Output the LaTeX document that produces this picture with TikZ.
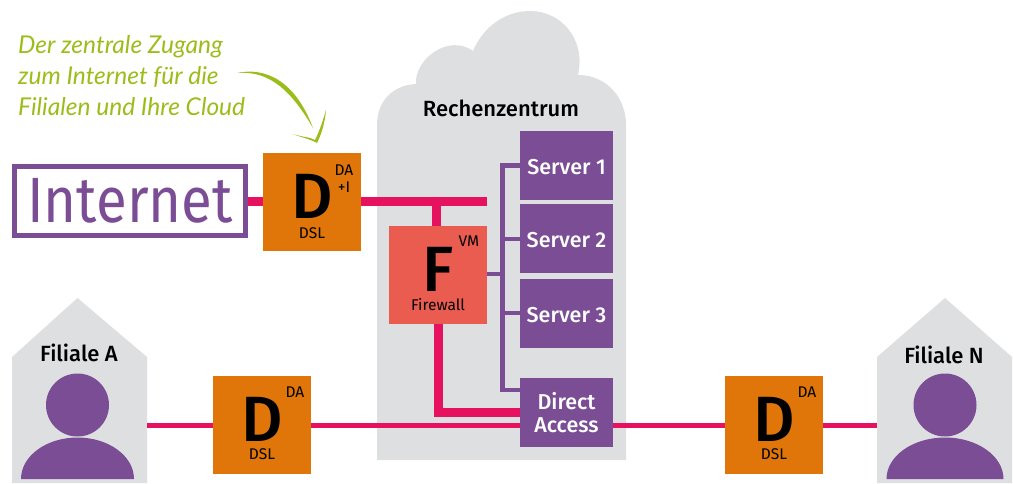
\documentclass[tikz,border=0pt]{standalone}
\usepackage{fontspec}
\setmainfont{Fira Sans}[BoldFont={Fira Sans Medium}]
\newfontfamily\handfont{Lato}
\usetikzlibrary{positioning}
\definecolor{lila}{HTML}{7A4D95}
\definecolor{orangebox}{HTML}{E0760A}
\definecolor{netpink}{HTML}{E6125F}
\definecolor{wolke}{HTML}{DEDFE1}
\definecolor{fwrot}{HTML}{EA5B50}
\definecolor{notiz}{HTML}{9BBD1A}
\newcommand{\fs}[1]{\fontsize{#1}{#1}\selectfont}
\newcommand{\gross}[1]{\raisebox{12pt}{#1}}
\tikzset{
  netbox/.style={minimum size=98pt,inner sep=0pt,text=black,font=\bfseries\fs{64}},
  dslbox/.style={netbox,fill=orangebox},
  fwbox/.style={netbox,fill=fwrot},
  srvbox/.style={fill=lila,text=white,minimum width=93pt,minimum height=69pt,inner sep=0pt,align=center,font=\bfseries\fs{21.5}},
  srvone/.style={srvbox,text height=18pt,text depth=0pt},
  klein/.style={inner sep=0pt,text=black,font=\fs{15.5},align=center},
  titel/.style={inner sep=0pt,text=black,font=\bfseries\fs{22}},
  haus/.style={fill=wolke},
  person/.style={fill=lila},
  fatline/.style={draw=netpink,line width=9pt},
  thinline/.style={draw=netpink,line width=5pt},
  busline/.style={draw=lila,line width=4.5pt},
  hand/.style={inner sep=0pt,anchor=west,text=notiz,font=\handfont\itshape\fs{24.5}}
}
\begin{document}
\begin{tikzpicture}[x=1pt,y=-1pt]
\useasboundingbox (0,0) rectangle (1013,483);
% Rechenzentrum
\fill[wolke] (377,460) -- (377,125) .. controls (377,101) and (393,85) .. (416,84)
  .. controls (414,60) and (448,33) .. (473,51)
  .. controls (483,27) and (505,11) .. (530,11)
  .. controls (562,11) and (586,40) .. (578,75)
  .. controls (606,75) and (626,97) .. (626,125) -- (626,460) -- cycle;
% Filialen
\fill[haus] (12,483) -- (12,357) -- (77.5,298) -- (147,357) -- (147,483) -- cycle;
\fill[haus] (877,483) -- (877,357) -- (945,298) -- (1012,357) -- (1012,483) -- cycle;
\fill[person] (77.5,405) circle (31.5);
\fill[person] (21,479) arc[start angle=180,end angle=0,x radius=56.5,y radius=-41.5] -- cycle;
\fill[person] (945,405) circle (31.5);
\fill[person] (886.5,479) arc[start angle=180,end angle=0,x radius=58.5,y radius=-41.5] -- cycle;
\node[titel] (filialea) at (79,353) {Filiale A};
\node[titel] (filialen) at (944,355) {Filiale N};
\node[titel] (rz) at (501,108) {Rechenzentrum};
% Knoten
\node[draw=lila,line width=5pt,fill=white,minimum width=231pt,minimum height=69pt,inner sep=0pt,text=lila,font=\fs{64}] (internet) at (130,201) {\scalebox{.88}[1]{Internet}};
\node[dslbox] (dsli) at (312,202) {\gross{D}};
\node[fwbox] (fw) at (438,275) {\gross{F}};
\node[dslbox] (dsla) at (262,425) {\gross{D}};
\node[dslbox] (dsln) at (774,425) {\gross{D}};
\node[srvone] (srv1) at (566.5,165.5) {Server 1};
\node[srvone] (srv2) at (566.5,238.5) {Server 2};
\node[srvone] (srv3) at (566.5,313.5) {Server 3};
\node[srvbox] (da) at (566.5,412.5) {Direct\\[2pt]Access};
\node[klein] at (344,170) {DA};
\node[klein] at (344,187) {+I};
\node[klein] at (312,233) {DSL};
\node[klein] at (469,241) {VM};
\node[klein] at (438,305) {Firewall};
\node[klein] at (295,392) {DA};
\node[klein] at (262,454) {DSL};
\node[klein] at (807,392) {DA};
\node[klein] at (774,454) {DSL};
% Netz
\coordinate (busend) at (487,201);
\coordinate (bustop) at (502.5,165.5);
\coordinate (busbot) at (502.5,390);
\draw[fatline] (internet.east |- busend) -- (dsli.west |- busend);
\draw[fatline] (dsli.east |- busend) -- (busend);
\draw[fatline] (436,201) -- (436,226);
\draw[fatline] (fw.south) -- (fw.south |- da.west) -- (da.west);
\draw[thinline] (147,425) -- (dsla.west);
\draw[thinline] (dsla.east) -- (da.west |- dsla.east);
\draw[thinline] (da.east |- dsln.west) -- (dsln.west);
\draw[thinline] (dsln.east) -- (877,425);
\draw[busline] (srv1.west |- bustop) -- (bustop) -- (busbot) -- (da.west |- busbot);
\draw[busline] (502.5,239) -- (srv2.west |- 502.5,239);
\draw[busline] (502.5,313) -- (srv3.west |- 502.5,313);
\draw[busline] (fw.east |- 502.5,274) -- (502.5,274);
% Notiz
\node[hand] (zeile1) at (18,47) {Der zentrale Zugang};
\node[hand] (zeile2) at (18,77) {zum Internet für die};
\node[hand] (zeile3) at (18,107) {Filialen und Ihre Cloud};
\fill[notiz] (237,73) .. controls (265,67) and (295,80) .. (313,128)
  .. controls (292,92) and (270,70) .. (237,73) -- cycle;
\fill[notiz] (293,134) .. controls (302,137) and (310,137) .. (315,140)
  .. controls (320,130) and (323,120) .. (326,110)
  .. controls (325,122) and (322,133) .. (317,143)
  .. controls (310,139) and (300,137) .. (293,134) -- cycle;
\end{tikzpicture}
\end{document}
